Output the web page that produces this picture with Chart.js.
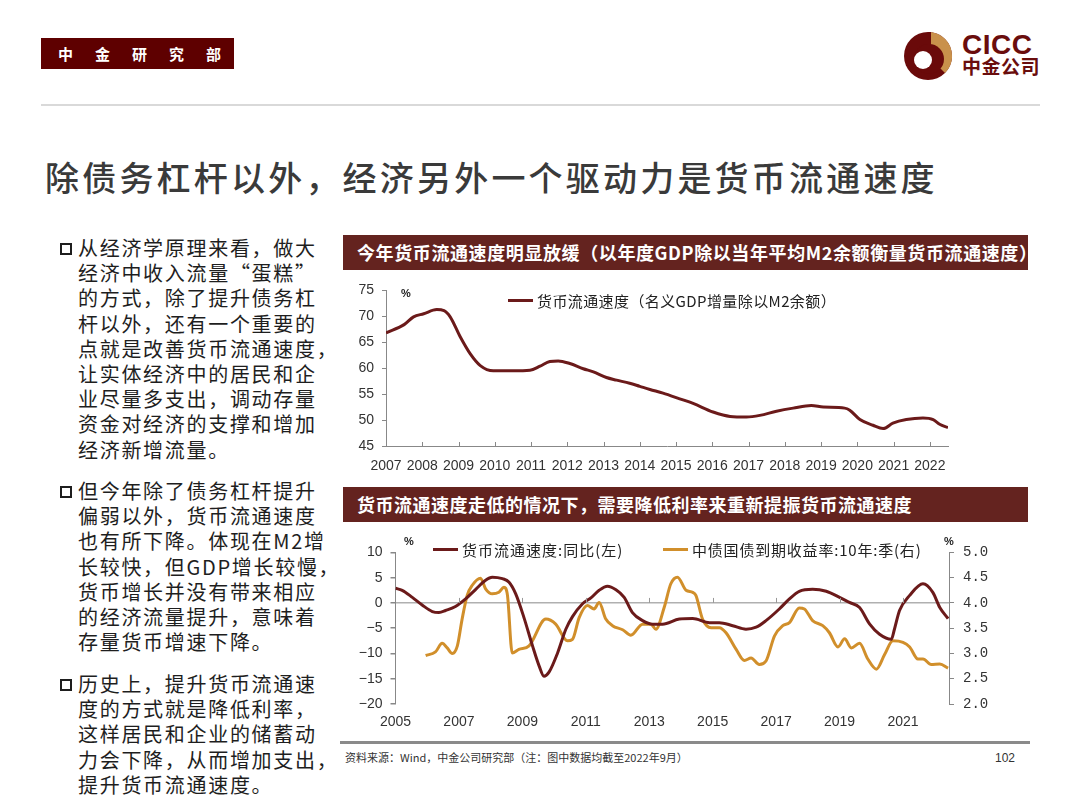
<!DOCTYPE html>
<html>
<head>
<meta charset="utf-8">
<script src="https://cdn.jsdelivr.net/npm/chart.js@4.4.0/dist/chart.umd.min.js"></script>
<style>
  body { margin: 0; background: #fff; }
  #page { position: relative; width: 1080px; height: 810px; overflow: hidden;
    font-family: "Noto Sans CJK SC", "Noto Sans", sans-serif; color: #222; }
  .abs { position: absolute; }
  #dept { left: 41px; top: 38px; width: 193px; height: 31px; background: #5e0000; color: #fff;
    font-size: 15px; font-weight: bold; line-height: 31px; }
  #dept span { position: absolute; top: 0; }
  #topline { left: 41px; top: 104px; width: 999px; height: 2px; background: #d9d9d9; }
  #cicc { left: 962px; top: 29px; color: #6a0d0d; font-family: "Liberation Sans", sans-serif; font-weight: bold;
    font-size: 28px; letter-spacing: 0.5px; }
  #cicccn { left: 962px; top: 55px; color: #6a0d0d; font-weight: bold; font-size: 19px; letter-spacing: 0.5px; line-height: 22px; }
  #title { left: 45px; top: 152px; font-size: 34px; font-weight: 500; color: #3a3a3a; letter-spacing: 3.2px; white-space: nowrap; }
  .bullets { left: 60px; width: 280px; font-size: 20px; line-height: 25.2px; letter-spacing: 1.7px; color: #1e1e1e; }
  .bullets .line { position: relative; padding-left: 18px; white-space: nowrap; }
  .box { position: absolute; left: 0; top: 8px; width: 8px; height: 8px; border: 2px solid #1e1e1e; }
  .bar { left: 343px; width: 671px; height: 35px; padding-left: 14px; background: #64231f; color: #fff;
    font-size: 18px; font-weight: bold; line-height: 35px; white-space: nowrap; }
  .leg { font-size: 15px; color: #222; white-space: nowrap; }
  .legline { position: absolute; height: 3px; width: 25px; }
  .unit { font-family: "Liberation Sans", sans-serif; font-size: 11px; font-weight: bold; color: #222; }
  #footline { left: 340px; top: 741px; width: 690px; height: 3px; background: #8a8a8a; }
  #src { left: 345px; top: 749px; font-size: 11px; color: #333; white-space: nowrap; }
  #pg { left: 995px; top: 751px; font-size: 12px; color: #333; font-family: "Liberation Sans", sans-serif; }
</style>
</head>
<body>
<div id="page">
  <div id="dept" class="abs"><span style="left:17px">中</span><span style="left:54px">金</span><span style="left:91px">研</span><span style="left:128px">究</span><span style="left:165px">部</span></div>
  <div id="topline" class="abs"></div>
  <svg class="abs" style="left:900px;top:28px" width="56" height="56" viewBox="-28 -28 56 56">
    <circle cx="0" cy="0" r="24" fill="#6a0a0a"/>
    <path d="M0,-24 A24,24 0 0,1 17,17 L0,0 Z" fill="#c9914b"/>
    <circle cx="1" cy="3" r="15" fill="#6a0a0a"/>
    <circle cx="-5" cy="4" r="9" fill="#fff"/>
    <path d="M0,-24 L0,-8 L3,-8 L3,-24 Z" fill="#6a0a0a"/>
  </svg>
  <div id="cicc" class="abs">CICC</div>
  <div id="cicccn" class="abs">中金公司</div>
  <div id="title" class="abs">除债务杠杆以外，经济另外一个驱动力是货币流通速度</div>

  <div class="abs bullets" style="top:235px">
    <div class="line"><span class="box"></span>从经济学原理来看，做大</div>
    <div class="line">经济中收入流量“蛋糕”</div>
    <div class="line">的方式，除了提升债务杠</div>
    <div class="line">杆以外，还有一个重要的</div>
    <div class="line">点就是改善货币流通速度，</div>
    <div class="line">让实体经济中的居民和企</div>
    <div class="line">业尽量多支出，调动存量</div>
    <div class="line">资金对经济的支撑和增加</div>
    <div class="line">经济新增流量。</div>
  </div>
  <div class="abs bullets" style="top:478px">
    <div class="line"><span class="box"></span>但今年除了债务杠杆提升</div>
    <div class="line">偏弱以外，货币流通速度</div>
    <div class="line">也有所下降。体现在M2增</div>
    <div class="line">长较快，但GDP增长较慢，</div>
    <div class="line">货币增长并没有带来相应</div>
    <div class="line">的经济流量提升，意味着</div>
    <div class="line">存量货币增速下降。</div>
  </div>
  <div class="abs bullets" style="top:671px">
    <div class="line"><span class="box"></span>历史上，提升货币流通速</div>
    <div class="line">度的方式就是降低利率，</div>
    <div class="line">这样居民和企业的储蓄动</div>
    <div class="line">力会下降，从而增加支出，</div>
    <div class="line">提升货币流通速度。</div>
  </div>

  <div class="abs bar" style="top:235px;letter-spacing:0.6px">今年货币流通速度明显放缓（以年度GDP除以当年平均M2余额衡量货币流通速度）</div>
  <canvas id="c1" class="abs" style="left:340px;top:274px" width="620" height="206"></canvas>
  <div class="abs unit" style="left:401px;top:287px">%</div>
  <div class="abs leg" style="left:508px;top:290px;letter-spacing:0.4px"><span class="legline" style="left:0;top:9px;background:#6b1a1a"></span><span style="padding-left:29px">货币流通速度（名义GDP增量除以M2余额）</span></div>

  <div class="abs bar" style="top:487px;letter-spacing:0.5px">货币流通速度走低的情况下，需要降低利率来重新提振货币流通速度</div>
  <canvas id="c2" class="abs" style="left:340px;top:535px" width="670" height="200"></canvas>
  <div class="abs unit" style="left:404px;top:535px">%</div>
  <div class="abs unit" style="left:944px;top:535px">%</div>
  <div class="abs leg" style="left:433px;top:539px;letter-spacing:1px"><span class="legline" style="left:0;top:9px;background:#6b1a1a"></span><span style="padding-left:29px">货币流通速度:同比(左)</span></div>
  <div class="abs leg" style="left:663px;top:539px;letter-spacing:0.8px"><span class="legline" style="left:0;top:9px;background:#d18f2b"></span><span style="padding-left:29px">中债国债到期收益率:10年:季(右)</span></div>

  <div id="footline" class="abs"></div>
  <div id="src" class="abs">资料来源：Wind，中金公司研究部（注：图中数据均截至2022年9月）</div>
  <div id="pg" class="abs">102</div>
</div>

<script>
// 上图：货币流通速度（名义GDP增量除以M2余额），%
const velYears = [2007.0, 2007.5, 2007.76, 2008.04, 2008.4, 2008.6, 2008.77, 2009.05, 2009.32, 2009.6, 2009.96,
  2010.5, 2010.97, 2011.25, 2011.52, 2011.75, 2012.07, 2012.44, 2012.72, 2013.08, 2013.36, 2013.72, 2014.0,
  2014.28, 2014.64, 2015.1, 2015.47, 2016.02, 2016.49, 2016.94, 2017.31, 2017.77, 2018.23, 2018.73, 2019.06,
  2019.65, 2019.79, 2020.07, 2020.43, 2020.71, 2020.98, 2021.35, 2021.81, 2022.09, 2022.27, 2022.5];
const velValues = [66.8, 68.4, 69.9, 70.5, 71.3, 71.1, 69.9, 66.0, 62.8, 60.5, 59.5,
  59.5, 59.6, 60.4, 61.3, 61.4, 60.9, 59.9, 59.3, 58.2, 57.7, 57.1, 56.5,
  55.9, 55.2, 54.1, 53.2, 51.55, 50.7, 50.6, 50.9, 51.7, 52.3, 52.8, 52.5,
  52.3, 51.9, 50.1, 49.0, 48.35, 49.4, 50.1, 50.4, 50.1, 49.2, 48.55];
const topTickYears = [2007, 2008, 2009, 2010, 2011, 2012, 2013, 2014, 2015, 2016, 2017, 2018, 2019, 2020, 2021, 2022];

// 下图：货币流通速度同比（左轴，%）
const yoyYears = [2005.0, 2005.21, 2005.53, 2005.84, 2006.16, 2006.37, 2006.58, 2006.89, 2007.21, 2007.53, 2007.84,
  2008.05, 2008.37, 2008.58, 2008.79, 2009.05, 2009.32, 2009.53, 2009.68, 2009.84, 2010.11, 2010.37, 2010.58,
  2010.89, 2011.16, 2011.42, 2011.68, 2011.95, 2012.21, 2012.47, 2012.79, 2013.11, 2013.42, 2013.95, 2014.37,
  2014.9, 2015.21, 2015.63, 2016.05, 2016.37, 2016.68, 2017.1, 2017.42, 2017.73, 2018.15, 2018.58, 2019.0,
  2019.31, 2019.63, 2019.95, 2020.26, 2020.63, 2020.73, 2020.89, 2021.21, 2021.63, 2021.94, 2022.16, 2022.42];
const yoyValues = [2.9, 2.5, 1.1, -0.4, -1.7, -1.9, -1.5, -0.7, 0.8, 2.7, 4.5,
  5.1, 4.8, 4.1, 1.8, -2.9, -8.5, -12.5, -14.5, -13.7, -9.9, -5.2, -2.7,
  -0.2, 1.0, 2.5, 3.3, 2.6, 1.1, -1.9, -3.5, -4.2, -4.2, -3.2, -3.1,
  -3.9, -3.9, -4.5, -5.2, -4.8, -3.5, -1.2, 0.8, 2.3, 2.7, 2.3, 1.1,
  0.1, -0.9, -4.2, -6.2, -7.2, -5.2, -1.5, 1.5, 3.8, 2.1, -0.9, -3.1];

// 下图：中债国债到期收益率 10年 季（右轴，%）
const yldYears = [2005.95, 2006.26, 2006.47, 2006.63, 2006.79, 2006.95, 2007.1, 2007.26, 2007.42, 2007.68, 2007.84,
  2008.05, 2008.26, 2008.42, 2008.53, 2008.68, 2008.89, 2009.21, 2009.74, 2010.05, 2010.42, 2010.58, 2010.79,
  2011.05, 2011.26, 2011.42, 2011.63, 2011.84, 2012.16, 2012.42, 2012.79, 2013.05, 2013.21, 2013.47, 2013.68,
  2013.89, 2014.16, 2014.37, 2014.47, 2014.68, 2014.95, 2015.21, 2015.42, 2015.74, 2016.0, 2016.21, 2016.47,
  2016.68, 2016.95, 2017.21, 2017.42, 2017.73, 2017.89, 2018.15, 2018.47, 2018.68, 2018.95, 2019.16, 2019.37,
  2019.63, 2019.89, 2020.16, 2020.42, 2020.68, 2021.0, 2021.21, 2021.47, 2021.63, 2021.89, 2022.16, 2022.42];
const yldValues = [2.96, 3.03, 3.2, 3.11, 3.0, 3.15, 3.68, 4.15, 4.35, 4.49, 4.28,
  4.18, 4.21, 4.31, 4.15, 3.01, 3.08, 3.15, 3.68, 3.58, 3.25, 3.28, 3.71,
  3.95, 3.88, 4.01, 3.68, 3.55, 3.47, 3.36, 3.58, 3.58, 3.48, 3.91, 4.38,
  4.51, 4.25, 4.21, 4.15, 3.68, 3.51, 3.51, 3.41, 3.08, 2.86, 2.91, 2.78,
  2.85, 3.35, 3.55, 3.61, 3.9, 3.88, 3.65, 3.55, 3.41, 3.13, 3.29, 3.11,
  3.2, 2.89, 2.69, 2.98, 3.25, 3.22, 3.13, 2.89, 2.89, 2.78, 2.79, 2.71];
const bottomTickYears = [2005, 2007, 2009, 2011, 2013, 2015, 2017, 2019, 2021];

const DARK = '#6b1a1a';
const GOLD = '#d18f2b';
const tickFont = { family: 'Liberation Sans', size: 14 };

function pts(xs, ys) {
  return xs.map((x, i) => ({ x: x, y: ys[i] }));
}

// 在横轴基线上画朝内的小刻度
const innerTicks = {
  id: 'innerTicks',
  afterDatasetsDraw(chart, args, opts) {
    const ctx = chart.ctx;
    const xs = chart.scales.x;
    const base = chart.scales[opts.yScale].getPixelForValue(opts.at);
    ctx.save();
    ctx.strokeStyle = opts.color;
    ctx.lineWidth = 1;
    ctx.beginPath();
    xs.ticks.forEach(t => {
      if (t.value === xs.min) return;
      const px = Math.round(xs.getPixelForValue(t.value)) + 0.5;
      ctx.moveTo(px, base);
      ctx.lineTo(px, base - opts.len);
    });
    ctx.stroke();
    ctx.restore();
  }
};

new Chart(document.getElementById('c1'), {
  type: 'line',
  data: {
    datasets: [{
      label: '货币流通速度（名义GDP增量除以M2余额）',
      data: pts(velYears, velValues),
      borderColor: DARK,
      borderWidth: 3,
      pointRadius: 0,
      cubicInterpolationMode: 'monotone'
    }]
  },
  options: {
    responsive: false,
    animation: false,
    layout: { padding: { top: 0, right: 12, left: 0, bottom: 0 } },
    plugins: {
      legend: { display: false },
      tooltip: { enabled: false },
      innerTicks: { yScale: 'y', at: 45, len: 4, color: '#888' }
    },
    scales: {
      x: {
        type: 'linear', min: 2007, max: 2022.5,
        afterBuildTicks: s => { s.ticks = topTickYears.map(v => ({ value: v })); },
        ticks: { color: '#333', font: tickFont, padding: 4, maxRotation: 0, autoSkip: false,
          callback: v => String(v) },
        grid: { display: false },
        border: { color: '#888' },
        afterFit: s => { s.height = 34; }
      },
      y: {
        min: 45, max: 75,
        ticks: { stepSize: 5, color: '#333', font: tickFont, padding: 8 },
        grid: { drawOnChartArea: false, tickLength: 4, tickColor: '#888' },
        border: { color: '#888' },
        afterFit: s => { s.width = 46; }
      }
    }
  },
  plugins: [innerTicks]
});

new Chart(document.getElementById('c2'), {
  type: 'line',
  data: {
    datasets: [{
      label: '货币流通速度:同比(左)',
      data: pts(yoyYears, yoyValues),
      borderColor: DARK,
      borderWidth: 3,
      pointRadius: 0,
      cubicInterpolationMode: 'monotone',
      yAxisID: 'y'
    }, {
      label: '中债国债到期收益率:10年:季(右)',
      data: pts(yldYears, yldValues),
      borderColor: GOLD,
      borderWidth: 3,
      pointRadius: 0,
      cubicInterpolationMode: 'monotone',
      yAxisID: 'y1'
    }]
  },
  options: {
    responsive: false,
    animation: false,
    layout: { padding: { top: 14, right: 0, left: 0, bottom: 0 } },
    plugins: {
      legend: { display: false },
      tooltip: { enabled: false },
      innerTicks: { yScale: 'y', at: 0, len: 5, color: '#999' }
    },
    scales: {
      x: {
        type: 'linear', min: 2005, max: 2022.45,
        afterBuildTicks: s => { s.ticks = bottomTickYears.map(v => ({ value: v })); },
        ticks: { color: '#333', font: tickFont, padding: 2, maxRotation: 0, autoSkip: false,
          callback: v => String(v) },
        grid: { display: false },
        border: { display: false },
        afterFit: s => { s.height = 31; }
      },
      y: {
        position: 'left', min: -20, max: 10,
        ticks: { stepSize: 5, color: '#333', font: tickFont, padding: 8,
          callback: v => v < 0 ? '\u2212' + Math.abs(v) : String(v) },
        grid: { color: c => c.tick.value === 0 ? '#b0b0b0' : 'rgba(0,0,0,0)', lineWidth: 1.5,
          tickLength: 5, tickColor: '#888' },
        border: { color: '#888' },
        afterFit: s => { s.width = 55.5; }
      },
      y1: {
        position: 'right', min: 2, max: 5,
        ticks: { stepSize: 0.5, color: '#333', font: { family: 'Liberation Mono', size: 14 }, padding: 9,
          callback: v => v.toFixed(1) },
        grid: { drawOnChartArea: false, tickLength: 5, tickColor: '#888' },
        border: { color: '#888' },
        afterFit: s => { s.width = 61; }
      }
    }
  },
  plugins: [innerTicks]
});
</script>
</body>
</html>
